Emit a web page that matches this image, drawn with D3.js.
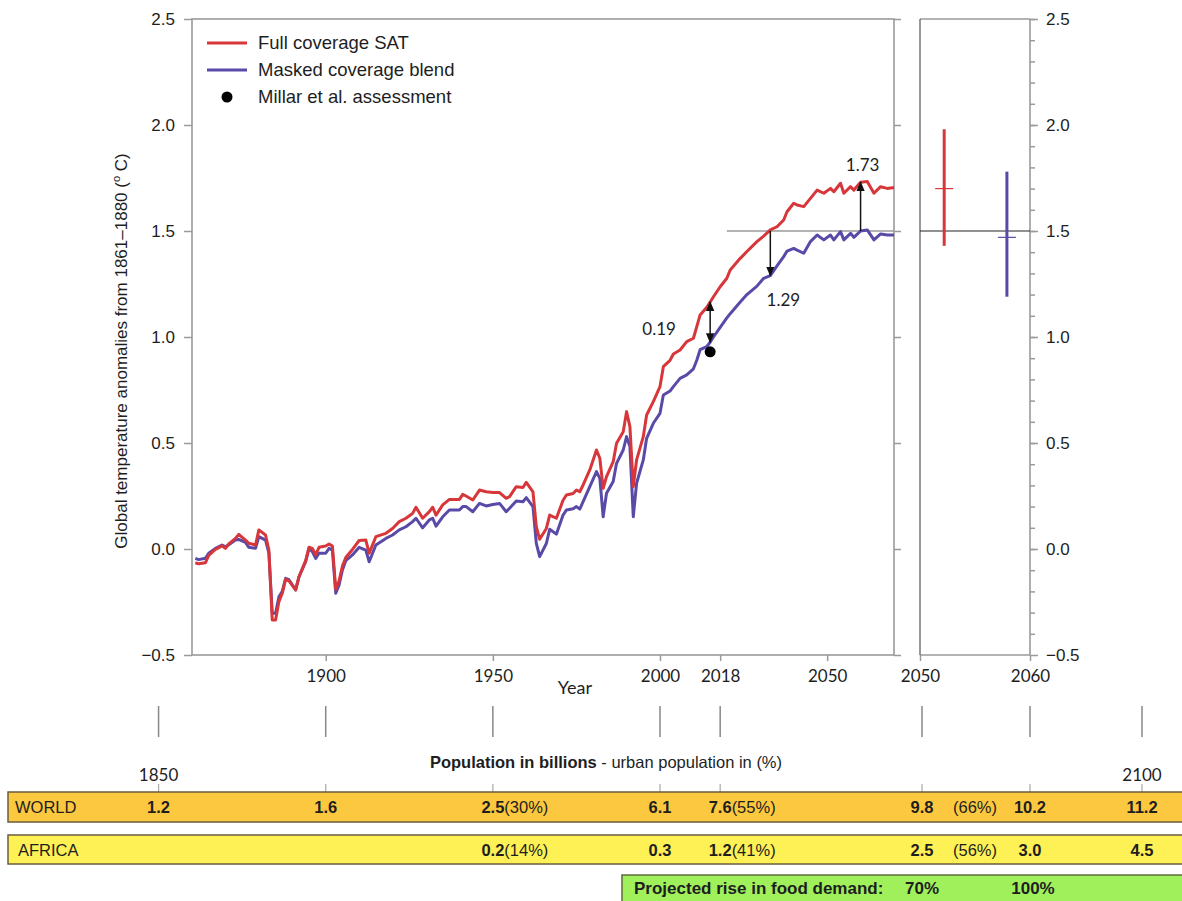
<!DOCTYPE html>
<html>
<head>
<meta charset="utf-8">
<script src="https://cdn.jsdelivr.net/npm/d3@7"></script>
<style>
  body { margin: 0; background: #fff; }
  svg { display: block; font-family: "Liberation Sans", Arial, sans-serif; }
</style>
</head>
<body>
<svg id="chart" width="1182" height="901"></svg>
<script>
// ---- Temperature series (anomalies from 1861-1880, deg C) ----
const years = [
  1861,1862,1864,1865,1867,1869,1870,1871,1873,1874,1876,1877,1879,1880,1882,1883,1884,1885,1886,1887,
  1888,1889,1891,1892,1894,1895,1896,1897,1898,1900,1901,1902,1903,1904,1905,1906,1908,1910,1912,1913,
  1915,1918,1920,1922,1924,1926,1927,1929,1931,1932,1933,1935,1937,1940,1941,1942,1944,1946,1948,1950,
  1952,1954,1955,1957,1959,1960,1962,1963,1964,1966,1967,1969,1971,1972,1974,1975,1976,1977,1979,1981,
  1982,1983,1984,1986,1987,1989,1990,1991,1992,1993,1995,1996,1998,2000,2001,2003,2004,2006,2008,2010,
  2011,2012,2014,2015,2016,2018,2020,2021,2024,2026,2029,2031,2033,2035,2037,2038,2040,2041,2043,2045,
  2047,2049,2051,2052,2054,2055,2057,2058,2060,2062,2064,2066,2068,2070
];
const fullSAT = [
  -0.065,-0.07,-0.065,-0.03,-0.002,0.015,0.003,0.024,0.05,0.069,0.042,0.027,0.019,0.09,0.066,-0.005,-0.335,-0.335,-0.248,-0.209,
  -0.143,-0.15,-0.193,-0.131,-0.055,0.008,0.003,-0.028,0.008,0.014,0.024,0.014,-0.19,-0.15,-0.08,-0.04,-0.002,0.04,0.042,-0.02,
  0.058,0.074,0.097,0.129,0.145,0.168,0.197,0.145,0.176,0.197,0.16,0.208,0.234,0.234,0.258,0.25,0.231,0.278,0.27,0.267,
  0.266,0.239,0.247,0.294,0.29,0.314,0.27,0.105,0.046,0.097,0.16,0.145,0.23,0.255,0.262,0.278,0.27,0.302,0.373,0.467,
  0.428,0.286,0.341,0.412,0.499,0.553,0.648,0.577,0.294,0.42,0.53,0.632,0.695,0.766,0.86,0.89,0.92,0.939,0.978,0.994,
  1.049,1.104,1.14,1.165,1.19,1.237,1.277,1.316,1.371,1.403,1.45,1.476,1.505,1.52,1.552,1.591,1.631,1.623,1.615,1.654,
  1.693,1.678,1.701,1.685,1.725,1.678,1.709,1.693,1.73,1.733,1.678,1.709,1.701,1.705
];
const maskedBlend = [
  -0.044,-0.05,-0.044,-0.02,0.003,0.019,0.01,0.02,0.042,0.045,0.031,0.008,0.003,0.058,0.042,-0.02,-0.303,-0.303,-0.225,-0.2,
  -0.138,-0.145,-0.193,-0.131,-0.06,0.003,-0.012,-0.044,-0.02,-0.02,0.003,-0.005,-0.209,-0.17,-0.099,-0.055,-0.028,0.008,-0.005,-0.06,
  0.019,0.05,0.066,0.09,0.105,0.129,0.145,0.1,0.137,0.145,0.108,0.152,0.184,0.184,0.2,0.2,0.176,0.215,0.203,0.21,
  0.215,0.176,0.192,0.226,0.223,0.242,0.2,0.027,-0.036,0.026,0.093,0.07,0.16,0.184,0.19,0.2,0.188,0.223,0.294,0.365,
  0.333,0.152,0.263,0.318,0.404,0.467,0.53,0.483,0.152,0.31,0.42,0.522,0.593,0.64,0.726,0.745,0.766,0.805,0.821,0.85,
  0.89,0.94,0.955,0.975,1.0,1.045,1.09,1.11,1.165,1.2,1.24,1.277,1.29,1.335,1.379,1.405,1.418,1.41,1.395,1.45,
  1.481,1.458,1.481,1.458,1.497,1.458,1.489,1.47,1.5,1.505,1.458,1.486,1.481,1.481
];

// Axis ticks
const yTicks = [-0.5, 0, 0.5, 1.0, 1.5, 2.0, 2.5];
const xTicks = [1900, 1950, 2000, 2018, 2050];
const panelTicks = [2050, 2060];

// Warming gaps marked with arrows
const gapYears = [2015, 2033, 2060];
const gapFrom = [0.975, 1.5, 1.5];
const gapTo = [1.165, 1.29, 1.73];
const gapLabels = ["0.19", "1.29", "1.73"];
const millarYear = 2015;
const millarValue = 0.93;
const thresholdStart = 2020;
const threshold = 1.5;

// Side panel ranges
const rangeX = [2052.2, 2057.9];
const rangeLow = [1.43, 1.19];
const rangeHigh = [1.98, 1.78];
const rangeMid = [1.70, 1.47];

// Population table
const popYears = [1850, 1900, 1950, 2000, 2018, 2050, 2060, 2100];
const worldPop = ["1.2", "1.6", "2.5", "6.1", "7.6", "9.8", "10.2", "11.2"];
const africaPop = [null, null, "0.2", "0.3", "1.2", "2.5", "3.0", "4.5"];
const urbanYears = [1950, 2018, 2050];
const worldUrban = ["(30%)", "(55%)", "(66%)"];
const africaUrban = ["(14%)", "(41%)", "(56%)"];
const foodYears = [2050, 2060];
const foodDemand = ["70%", "100%"];

const RED = "#d7363a";
const PURPLE = "#5a4aa8";
const AXIS = "#9a9a9a";
const TXT = "#1e1e1e";
const NARROW = "Lato, 'Liberation Sans', sans-serif";

const svg = d3.select("#chart");

const x = d3.scaleLinear().domain([1860, 2070]).range([192, 894]);
const y = d3.scaleLinear().domain([-0.5, 2.5]).range([655, 19]);
const px = d3.scaleLinear().domain([2050, 2060]).range([920, 1030]);
const popX = d3.scaleLinear()
  .domain([1850, 2018, 2050, 2060, 2100])
  .range([x(1850), x(2018), 922, 1030, 1142]);

// ---- Main panel frame ----
svg.append("rect")
  .attr("x", x(1860)).attr("y", y(2.5))
  .attr("width", x(2070) - x(1860)).attr("height", y(-0.5) - y(2.5))
  .attr("fill", "none").attr("stroke", AXIS).attr("stroke-width", 1.6);

function styleAxis(g, fontSize, family) {
  g.select(".domain").remove();
  g.selectAll(".tick line").attr("stroke", AXIS).attr("stroke-width", 1.5);
  g.selectAll(".tick text").attr("fill", TXT).attr("font-size", fontSize)
    .attr("font-family", family || null);
}

svg.append("g").attr("transform", `translate(${x(1860)},0)`)
  .call(d3.axisLeft(y).tickValues(yTicks).tickSize(8).tickPadding(9).tickFormat(d3.format(".1f")))
  .call(g => styleAxis(g, 17));

svg.append("g").attr("transform", `translate(${x(2070)},0)`)
  .call(d3.axisRight(y).tickValues(yTicks).tickSize(7).tickFormat(""))
  .call(g => styleAxis(g, 17));

svg.append("g").attr("transform", `translate(0,${y(-0.5)})`)
  .call(d3.axisBottom(x).tickValues(xTicks).tickSize(6).tickSizeOuter(0).tickPadding(9).tickFormat(d3.format("d")))
  .call(g => styleAxis(g, 17, NARROW));

svg.append("text")
  .attr("x", 575).attr("y", 694)
  .attr("text-anchor", "middle").attr("font-family", NARROW)
  .attr("font-size", 18).attr("fill", TXT).text("Year");

// y-axis title
const ytitle = svg.append("text")
  .attr("transform", `translate(127,351) rotate(-90)`)
  .attr("text-anchor", "middle").attr("font-size", 17).attr("fill", TXT);
ytitle.append("tspan").text("Global temperature anomalies from 1861\u20131880 (");
ytitle.append("tspan").attr("font-size", 11).attr("dy", -7).text("o");
ytitle.append("tspan").attr("dy", 7).text(" C)");

// ---- Threshold line in main panel ----
svg.append("line")
  .attr("x1", x(thresholdStart)).attr("x2", x(2070))
  .attr("y1", y(threshold)).attr("y2", y(threshold))
  .attr("stroke", AXIS).attr("stroke-width", 1.4);

// ---- Series lines ----
const line = d3.line().x((d, i) => x(years[i])).y(d => y(d)).curve(d3.curveLinear);
svg.append("path").datum(maskedBlend)
  .attr("d", line).attr("fill", "none").attr("stroke", PURPLE)
  .attr("stroke-width", 3).attr("stroke-linejoin", "round");
svg.append("path").datum(fullSAT)
  .attr("d", line).attr("fill", "none").attr("stroke", RED)
  .attr("stroke-width", 3).attr("stroke-linejoin", "round");

// ---- Arrows ----
const defs = svg.append("defs");
defs.append("marker").attr("id", "head")
  .attr("viewBox", "0 0 10 10").attr("refX", 9).attr("refY", 5)
  .attr("markerUnits", "userSpaceOnUse")
  .attr("markerWidth", 10).attr("markerHeight", 10)
  .attr("orient", "auto-start-reverse")
  .append("path").attr("d", "M0,0.8 L10,5 L0,9.2 Z").attr("fill", "#111");

gapYears.forEach((yr, i) => {
  const l = svg.append("line")
    .attr("x1", x(yr)).attr("x2", x(yr))
    .attr("y1", y(gapFrom[i])).attr("y2", y(gapTo[i]))
    .attr("stroke", "#111").attr("stroke-width", 1.5)
    .attr("marker-end", "url(#head)");
  if (i === 0) l.attr("marker-start", "url(#head)");
});

svg.append("circle")
  .attr("cx", x(millarYear)).attr("cy", y(millarValue)).attr("r", 5.5).attr("fill", "#000");

const labelPos = [
  { dx: -51, ref: (gapFrom[0] + gapTo[0]) / 2, shift: 13 },
  { dx: 13, ref: gapTo[1], shift: 30 },
  { dx: 2, ref: gapTo[2], shift: -11 }
];
gapLabels.forEach((t, i) => {
  svg.append("text")
    .attr("x", x(gapYears[i]) + labelPos[i].dx)
    .attr("y", y(labelPos[i].ref) + labelPos[i].shift)
    .attr("text-anchor", "middle").attr("font-family", NARROW)
    .attr("font-size", 17).attr("fill", TXT).text(t);
});

// ---- Legend ----
const legend = svg.append("g");
const legendItems = [
  { label: "Full coverage SAT", color: RED, type: "line" },
  { label: "Masked coverage blend", color: PURPLE, type: "line" },
  { label: "Millar et al. assessment", color: "#000", type: "dot" }
];
legendItems.forEach((d, i) => {
  const cy = 43 + i * 27;
  if (d.type === "line") {
    legend.append("line").attr("x1", 207).attr("x2", 247).attr("y1", cy).attr("y2", cy)
      .attr("stroke", d.color).attr("stroke-width", 3);
  } else {
    legend.append("circle").attr("cx", 227).attr("cy", cy).attr("r", 5.5).attr("fill", d.color);
  }
  legend.append("text").attr("x", 258).attr("y", cy + 6)
    .attr("font-size", 18.5).attr("fill", TXT).text(d.label);
});

// ---- Side panel ----
svg.append("line").attr("x1", px(2050)).attr("x2", px(2060)).attr("y1", y(2.5)).attr("y2", y(2.5))
  .attr("stroke", AXIS).attr("stroke-width", 1.6);
svg.append("line").attr("x1", px(2050)).attr("x2", px(2060)).attr("y1", y(-0.5)).attr("y2", y(-0.5))
  .attr("stroke", AXIS).attr("stroke-width", 1.6);
svg.append("line").attr("x1", px(2050)).attr("x2", px(2050)).attr("y1", y(2.5)).attr("y2", y(-0.5))
  .attr("stroke", "#555").attr("stroke-width", 1.2);
svg.append("line").attr("x1", px(2060)).attr("x2", px(2060)).attr("y1", y(2.5)).attr("y2", y(-0.5))
  .attr("stroke", AXIS).attr("stroke-width", 1.6);

svg.append("g").attr("transform", `translate(${px(2060)},0)`)
  .call(d3.axisRight(y).tickValues(d3.range(-4, 26).map(v => v / 10)).tickSize(5).tickFormat(""))
  .call(g => styleAxis(g, 17));
svg.append("g").attr("transform", `translate(${px(2060)},0)`)
  .call(d3.axisRight(y).tickValues(yTicks).tickSize(8).tickPadding(8).tickFormat(d3.format(".1f")))
  .call(g => styleAxis(g, 17));
svg.append("g").attr("transform", `translate(0,${y(-0.5)})`)
  .call(d3.axisBottom(px).tickValues(panelTicks).tickSize(6).tickSizeOuter(0).tickPadding(9).tickFormat(d3.format("d")))
  .call(g => styleAxis(g, 17, NARROW));

svg.append("line").attr("x1", px(2050)).attr("x2", px(2060))
  .attr("y1", y(threshold)).attr("y2", y(threshold))
  .attr("stroke", "#222").attr("stroke-width", 1.2);

const rangeColors = [RED, PURPLE];
rangeX.forEach((rx, i) => {
  svg.append("line").attr("x1", px(rx)).attr("x2", px(rx))
    .attr("y1", y(rangeLow[i])).attr("y2", y(rangeHigh[i]))
    .attr("stroke", rangeColors[i]).attr("stroke-width", 3);
  svg.append("line").attr("x1", px(rx) - 9).attr("x2", px(rx) + 9)
    .attr("y1", y(rangeMid[i])).attr("y2", y(rangeMid[i]))
    .attr("stroke", rangeColors[i]).attr("stroke-width", 1.2);
});

// ---- Population timeline ----
const pop = svg.append("g");
popYears.forEach(yr => {
  pop.append("line").attr("x1", popX(yr)).attr("x2", popX(yr)).attr("y1", 706).attr("y2", 737)
    .attr("stroke", "#888").attr("stroke-width", 1.5);
  pop.append("line").attr("x1", popX(yr)).attr("x2", popX(yr)).attr("y1", 784).attr("y2", 792)
    .attr("stroke", "#aaa").attr("stroke-width", 1.2);
});
[popYears[0], popYears[popYears.length - 1]].forEach(yr => {
  pop.append("text").attr("x", popX(yr)).attr("y", 781).attr("text-anchor", "middle")
    .attr("font-family", NARROW).attr("font-size", 17).attr("fill", TXT).text(yr);
});

const title = pop.append("text").attr("x", 606).attr("y", 768).attr("text-anchor", "middle")
  .attr("font-size", 16.5).attr("fill", TXT);
title.append("tspan").attr("font-weight", "bold").text("Population in billions");
title.append("tspan").text(" - urban population in (%)");

pop.append("rect").attr("x", 8).attr("y", 792).attr("width", 1190).attr("height", 30)
  .attr("fill", "#fcc83f").attr("stroke", "#6a5c3e").attr("stroke-width", 1.5);
pop.append("rect").attr("x", 8).attr("y", 835).attr("width", 1190).attr("height", 29)
  .attr("fill", "#fef155").attr("stroke", "#6a5c3e").attr("stroke-width", 1.5);
pop.append("rect").attr("x", 622).attr("y", 875).attr("width", 580).attr("height", 40)
  .attr("fill", "#a0f05c").attr("stroke", "#5d6a3e").attr("stroke-width", 1.5);

pop.append("text").attr("x", 15).attr("y", 813).attr("font-size", 16.5).attr("fill", TXT).text("WORLD");
pop.append("text").attr("x", 18).attr("y", 856).attr("font-size", 16.5).attr("fill", TXT).text("AFRICA");

function rowValues(values, urban, baseY) {
  values.forEach((v, i) => {
    if (v === null) return;
    const yr = popYears[i];
    const t = pop.append("text").attr("x", popX(yr)).attr("y", baseY).attr("text-anchor", "middle")
      .attr("font-size", 16.5).attr("font-weight", "bold").attr("fill", TXT).text(v);
    const k = urbanYears.indexOf(yr);
    if (k >= 0) {
      if (yr === 2050) {
        pop.append("text").attr("x", (popX(2050) + popX(2060)) / 2 - 1).attr("y", baseY)
          .attr("text-anchor", "middle").attr("font-size", 16.5).attr("fill", TXT).text(urban[k]);
      } else {
        const w = t.node().getComputedTextLength();
        pop.append("text").attr("x", popX(yr) + w / 2).attr("y", baseY)
          .attr("font-size", 16.5).attr("fill", TXT).text(urban[k]);
      }
    }
  });
}
rowValues(worldPop, worldUrban, 813);
rowValues(africaPop, africaUrban, 856);

pop.append("text").attr("x", 634).attr("y", 894).attr("font-size", 17).attr("font-weight", "bold")
  .attr("fill", TXT).text("Projected rise in food demand:");
foodYears.forEach((yr, i) => {
  pop.append("text").attr("x", popX(yr) + (i ? 3 : 0)).attr("y", 894).attr("text-anchor", "middle")
    .attr("font-size", 17).attr("font-weight", "bold").attr("fill", TXT).text(foodDemand[i]);
});
</script>
</body>
</html>
